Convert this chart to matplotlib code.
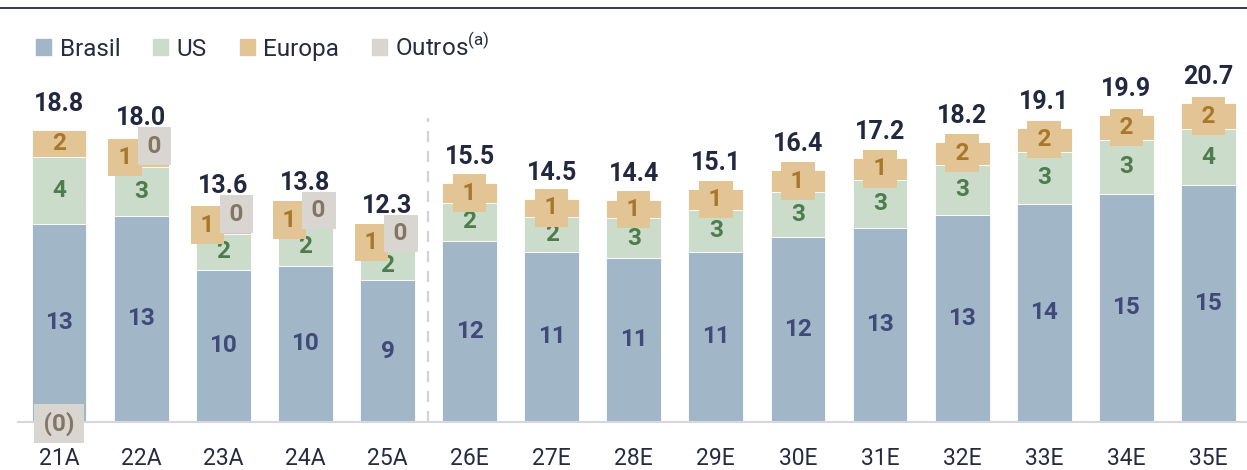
import matplotlib.pyplot as plt
from matplotlib.patches import Patch
from matplotlib.lines import Line2D
import numpy as np

plt.rcParams['font.family'] = ['Roboto', 'DejaVu Sans']

# dados
anos = ['21A', '22A', '23A', '24A', '25A', '26E', '27E', '28E', '29E',
        '30E', '31E', '32E', '33E', '34E', '35E']
brasil = [12.82, 13.35, 9.84, 10.12, 9.19, 11.73, 11.02, 10.63, 11.02,
          11.95, 12.58, 13.42, 14.13, 14.78, 15.34]
us = [4.32, 3.17, 2.33, 2.45, 1.94, 2.46, 2.27, 2.55, 2.70,
      2.91, 3.09, 3.22, 3.37, 3.48, 3.62]
europa = [1.77, 1.20, 1.15, 1.00, 0.95, 1.25, 1.13, 1.17, 1.34,
          1.44, 1.44, 1.51, 1.55, 1.60, 1.66]
outros = [-0.05, 0.28, 0.28, 0.23, 0.22, 0, 0, 0, 0, 0, 0, 0, 0, 0, 0]
totais = [18.8, 18.0, 13.6, 13.8, 12.3, 15.5, 14.5, 14.4, 15.1,
          16.4, 17.2, 18.2, 19.1, 19.9, 20.7]

c_brasil = '#a1b6c7'
c_us = '#cbdccb'
c_europa = '#e3c595'
c_outros = '#d9d6d1'
t_brasil = '#3f4a7a'
t_us = '#4d7c4d'
t_europa = '#a7782c'
t_outros = '#857664'
t_total = '#222840'

W, H = 1247, 470
fig = plt.figure(figsize=(W / 100, H / 100), dpi=100)
ax = fig.add_axes([18 / W, 48 / H, (W - 18) / W, (H - 58) / H])

x = np.arange(len(anos))
larg = 0.667
brasil = np.array(brasil)
us = np.array(us)
europa = np.array(europa)
outros = np.array(outros)

ax.bar(x, brasil, larg, color=c_brasil, edgecolor='white', linewidth=0.6)
ax.bar(x, us, larg, bottom=brasil, color=c_us, edgecolor='white', linewidth=0.6)
ax.bar(x, europa, larg, bottom=brasil + us, color=c_europa, edgecolor='white', linewidth=0.6)
pos = np.where(outros > 0, outros, 0)
ax.bar(x, pos, larg, bottom=brasil + us + europa, color=c_outros, edgecolor='none')
neg = np.where(outros < 0, outros, 0)
ax.bar(x, neg, larg, color=c_outros, edgecolor='none')

fs = 17.5
hs = '\u200a'
box_eu = dict(boxstyle='square,pad=0.3', fc=c_europa, ec='none')
box_ou = dict(boxstyle='square,pad=0.3', fc=c_outros, ec='none')
for i in range(len(anos)):
    ax.text(x[i], brasil[i] / 2, f'{brasil[i]:.0f}', ha='center', va='center',
            fontsize=fs, fontweight='bold', color=t_brasil)
    ax.text(x[i], brasil[i] + us[i] / 2, f'{us[i]:.0f}', ha='center', va='center',
            fontsize=fs, fontweight='bold', color=t_us)

    y_eu = brasil[i] + us[i] + europa[i] / 2
    dx = -11.5 if outros[i] > 0 else 0
    # caixa só quando o segmento é fino demais para o rótulo
    if europa[i] < 1.7:
        ax.annotate(hs + f'{europa[i]:.0f}' + hs, (x[i], y_eu), xytext=(dx, 0),
                    textcoords='offset points', ha='center', va='center', fontsize=fs,
                    fontweight='bold', color=t_europa, bbox=box_eu)
    else:
        ax.text(x[i], y_eu, f'{europa[i]:.0f}', ha='center', va='center', fontsize=fs,
                fontweight='bold', color=t_europa)

    if outros[i] > 0:
        y_ou = brasil[i] + us[i] + europa[i] + outros[i] / 2
        ax.annotate(hs + f'{outros[i]:.0f}' + hs, (x[i], y_ou), xytext=(9.7, 0),
                    textcoords='offset points',
                    ha='center', va='center', fontsize=fs, fontweight='bold', color=t_outros,
                    bbox=box_ou)
    elif outros[i] < 0:
        ax.annotate(hs + f'({abs(outros[i]):.0f})' + hs, (x[i], 0), xytext=(0, -1),
                    textcoords='offset points',
                    ha='center', va='center', fontsize=fs, fontweight='bold', color=t_outros,
                    bbox=box_ou, annotation_clip=False)

    topo = brasil[i] + us[i] + europa[i] + max(outros[i], 0)
    ax.annotate(f'{totais[i]:.1f}', (x[i], topo), xytext=(0, 18.7), textcoords='offset points',
                ha='center', va='center', fontsize=18, fontweight='bold', color=t_total)

# separação realizado / projetado
ax.plot([4.5, 4.5], [0, 19.7], color='#d3d3d3', lw=1.6, ls=(0, (5, 4)))

ax.set_xlim(-0.5, 14.47)
ax.set_ylim(0, (H - 58) / 15.45)
ax.set_xticks(x, anos)
ax.tick_params(axis='x', length=0, pad=18, labelsize=16.5, labelcolor='#262b40')
ax.set_yticks([])
for s in ['top', 'right', 'left']:
    ax.spines[s].set_visible(False)
ax.spines['bottom'].set_color('#d5d6e5')
ax.spines['bottom'].set_linewidth(1.5)

fig.add_artist(Line2D([0, 1], [1 - 8 / H] * 2, transform=fig.transFigure,
                      color='#232a42', lw=1.3))

handles = [Patch(color=c_brasil), Patch(color=c_us), Patch(color=c_europa), Patch(color=c_outros)]
labels = ['Brasil', 'US', 'Europa', 'Outros$^{\\mathregular{(a)}}$']
fig.legend(handles, labels, loc='upper left', bbox_to_anchor=(36 / W, 1 - 33 / H),
           ncol=4, frameon=False, fontsize=17.5, handlelength=0.62, handleheight=0.62,
           handletextpad=0.35, columnspacing=1.35, borderaxespad=0, borderpad=0,
           labelcolor='#262b40')

fig.savefig('out.png', dpi=100)
